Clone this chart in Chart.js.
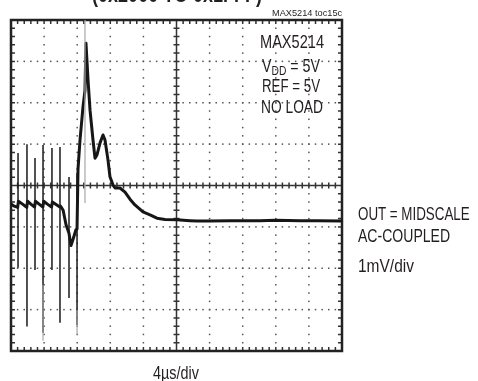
<!DOCTYPE html>
<html><head><meta charset="utf-8">
<script src="https://cdn.jsdelivr.net/npm/chart.js@4.4.0/dist/chart.umd.min.js"></script>
<style>
html,body{margin:0;padding:0;background:#fff;}
#wrap{position:relative;width:478px;height:381px;overflow:hidden;background:#fff;}
canvas{position:absolute;left:0;top:0;}
.t{position:absolute;font-family:"Liberation Sans",Arial,sans-serif;color:#231f20;white-space:nowrap;font-size:18px;line-height:18px;transform-origin:0 0;}
.sub{font-size:13px;position:relative;top:3px;}
</style></head>
<body>
<div id="wrap">
<canvas id="c" width="478" height="381"></canvas>
<div class="t" style="left:92px;top:-16px;font-size:22px;line-height:22px;font-weight:bold;transform:scaleX(0.82);">(0x2000 TO 0x1FFF)</div>
<div class="t" style="left:272px;top:7.8px;font-size:9.5px;line-height:10px;transform:scaleX(0.97);">MAX5214 toc15c</div>
<div class="t" style="left:260px;top:32.8px;transform:scaleX(0.81);">MAX5214</div>
<div class="t" style="left:261.5px;top:56.5px;transform:scaleX(0.79);">V<span class="sub">DD</span> = 5V</div>
<div class="t" style="left:261.5px;top:77.3px;transform:scaleX(0.74);">REF = 5V</div>
<div class="t" style="left:261px;top:97.8px;transform:scaleX(0.765);">NO LOAD</div>
<div class="t" style="left:358px;top:204.8px;transform:scaleX(0.744);">OUT = MIDSCALE</div>
<div class="t" style="left:358px;top:226.5px;transform:scaleX(0.78);">AC-COUPLED</div>
<div class="t" style="left:358px;top:256.5px;transform:scaleX(0.86);">1mV/div</div>
<div class="t" style="left:153px;top:363.8px;transform:scaleX(0.80);">4µs/div</div>
</div>
<script>
// Time in µs (4 µs/div, 10 div), voltage in mV (1 mV/div, 8 div)
const xMin = 0, xMax = 40, xStep = 4;
const yMin = -4, yMax = 4, yStep = 1;

// Main (thick) trace
const traceTime = [0,0.4,0.8,0.9,1.4,1.9,2.0,2.4,2.85,2.95,3.4,3.85,3.95,4.4,4.9,5.0,5.45,5.9,6.0,6.3,6.65,7.0,7.25,7.5,7.85,7.98,8.1,8.34,8.7,8.94,9.06,9.31,9.55,9.91,10.15,10.39,10.76,11.12,11.36,11.72,11.96,12.33,12.57,13.17,13.78,14.38,14.98,15.95,16.8,17.64,18.61,20.06,21.63,22.5,24.05,26.47,28,30.09,32,34.93,37,40];
const traceVolt = [-0.45,-0.5,-0.53,-0.38,-0.45,-0.53,-0.38,-0.45,-0.52,-0.38,-0.45,-0.52,-0.38,-0.45,-0.52,-0.4,-0.46,-0.52,-0.5,-0.6,-0.95,-1.15,-1.45,-1.3,-1.07,-1.05,0.4,1.1,1.9,2.3,3.44,2.55,1.82,1.1,0.66,0.74,1.03,1.22,1.1,0.62,0.21,0.01,-0.06,-0.06,-0.16,-0.33,-0.47,-0.64,-0.71,-0.79,-0.82,-0.83,-0.85,-0.86,-0.86,-0.85,-0.85,-0.85,-0.84,-0.85,-0.85,-0.86];

// Thin glitch spikes
const spikeTime   = [0.85,1.93,2.90,3.87,4.95,5.92,7.01,7.98];
const spikeTop    = [0.785,1.0,0.665,0.98,0.906,0.93,0.205,0.30];
const spikeBottom = [-1.99,-3.41,-2.04,-3.56,-2.04,-3.32,-2.72,-3.37];

// Faint grey trace segments
const greyTime  = [8.94,8.94,null,3.87,3.87,null,7.98,7.98];
const greyVolt  = [4.0,-0.42,null,-2.4,-3.75,null,-3.0,-3.6];

const mainData = traceTime.map((t,i)=>({x:t,y:traceVolt[i]}));
const spikeData = [];
spikeTime.forEach((t,i)=>{ spikeData.push({x:t,y:spikeTop[i]},{x:t,y:spikeBottom[i]},{x:t,y:null}); });
const greyData = greyTime.map((t,i)=>({x:t===null?greyTime[i-1]:t,y:greyVolt[i]}));

const graticule = {
  id:'graticule',
  beforeDatasetsDraw(chart){
    const {ctx, chartArea:a, scales:{x,y}} = chart;
    ctx.save();
    const xc = x.getPixelForValue((xMin+xMax)/2), yc = y.getPixelForValue(0);
    const xMinor = [], yMinor = [];
    for(let v=xMin; v<=xMax+1e-9; v+=xStep/5) xMinor.push(x.getPixelForValue(v));
    for(let v=yMin; v<=yMax+1e-9; v+=yStep/5) yMinor.push(y.getPixelForValue(v));
    const xMaj = [], yMaj = [];
    for(let v=xMin+xStep; v<xMax-1e-9; v+=xStep) xMaj.push(x.getPixelForValue(v));
    for(let v=yMin+yStep; v<yMax-1e-9; v+=yStep) yMaj.push(y.getPixelForValue(v));
    // dotted grid
    ctx.fillStyle='#555';
    xMaj.forEach(px=>{ if(Math.abs(px-xc)<1) return; yMinor.forEach(py=>ctx.fillRect(px-0.75,py-0.75,1.5,1.5)); });
    yMaj.forEach(py=>{ if(Math.abs(py-yc)<1) return; xMinor.forEach(px=>ctx.fillRect(px-0.75,py-0.75,1.5,1.5)); });
    // centre axes
    ctx.strokeStyle='#333'; ctx.lineWidth=1.5;
    ctx.beginPath();
    ctx.moveTo(a.left,yc); ctx.lineTo(a.right,yc);
    ctx.moveTo(xc,a.top); ctx.lineTo(xc,a.bottom);
    xMinor.forEach(px=>{ ctx.moveTo(px,yc-3); ctx.lineTo(px,yc+3); });
    yMinor.forEach(py=>{ ctx.moveTo(xc-3,py); ctx.lineTo(xc+3,py); });
    // frame ticks
    xMinor.forEach(px=>{ ctx.moveTo(px,a.top); ctx.lineTo(px,a.top+4); ctx.moveTo(px,a.bottom); ctx.lineTo(px,a.bottom-4); });
    yMinor.forEach(py=>{ ctx.moveTo(a.left,py); ctx.lineTo(a.left+4,py); ctx.moveTo(a.right,py); ctx.lineTo(a.right-4,py); });
    ctx.stroke();
    // frame
    ctx.strokeStyle='#222'; ctx.lineWidth=2.5;
    ctx.strokeRect(a.left,a.top,a.right-a.left,a.bottom-a.top);
    ctx.restore();
  }
};

new Chart(document.getElementById('c'), {
  type:'line',
  data:{datasets:[
    {label:'grey', data:greyData, borderColor:'#a8a8a8', borderWidth:1.2, pointRadius:0, spanGaps:false},
    {label:'spikes', data:spikeData, borderColor:'#1a1a1a', borderWidth:1.5, pointRadius:0, spanGaps:false},
    {label:'trace', data:mainData, borderColor:'#161616', borderWidth:3, pointRadius:0, borderJoinStyle:'round'}
  ]},
  options:{
    responsive:false, animation:false, devicePixelRatio:1,
    layout:{padding:{left:11,top:20,right:136,bottom:30}},
    plugins:{legend:{display:false}, tooltip:{enabled:false}, title:{display:false}},
    scales:{
      x:{type:'linear', min:xMin, max:xMax, display:false},
      y:{type:'linear', min:yMin, max:yMax, display:false}
    },
    elements:{line:{tension:0}}
  },
  plugins:[graticule]
});
</script>
</body></html>
